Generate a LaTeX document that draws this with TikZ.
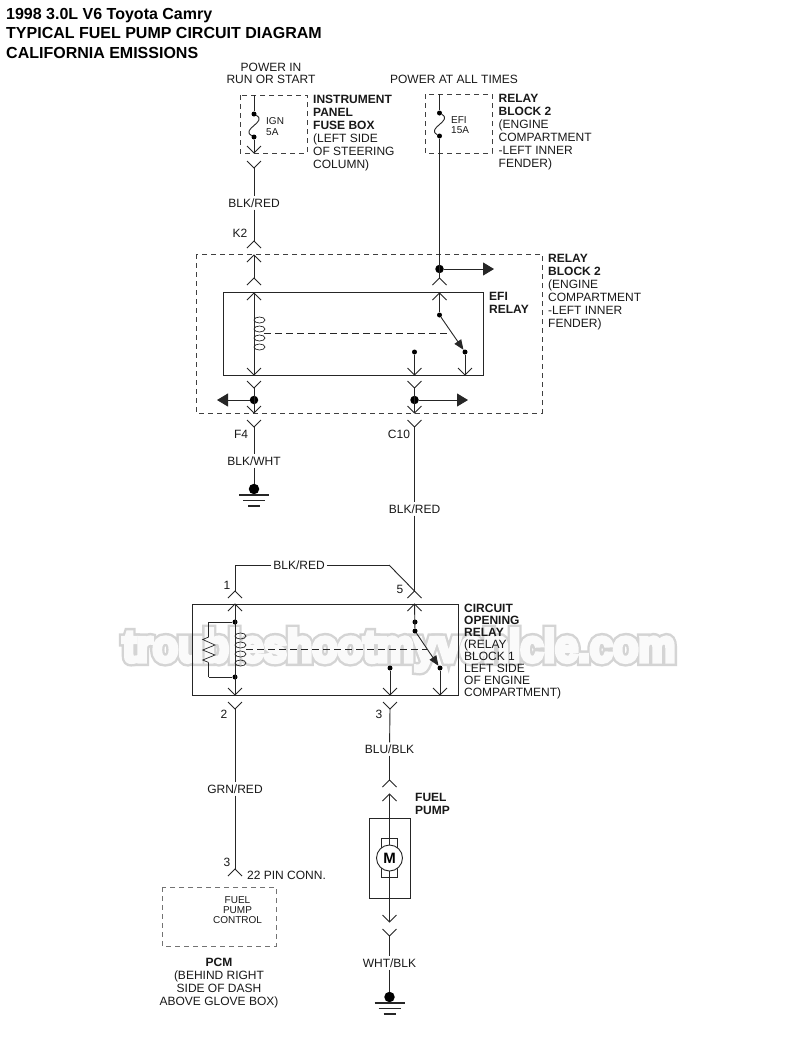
\documentclass[tikz,border=0pt]{standalone}
\usepackage{fontspec}
\setmainfont{Liberation Sans}
\newfontfamily\wmedge[FakeBold=20]{Liberation Sans Bold}
\newfontfamily\wmface[FakeBold=9]{Liberation Sans Bold}
\usetikzlibrary{arrows.meta}
\definecolor{inkgray}{gray}{0.15}

\begin{document}
\begin{tikzpicture}[x=1pt,y=-1pt,
    wire/.style={draw=inkgray,line width=0.9pt},
    dashbox/.style={draw=black!75,line width=0.8pt,dash pattern=on 5pt off 4pt},
    solidbox/.style={draw=inkgray,line width=0.9pt},
    big dot/.style={circle,fill=black,inner sep=0pt,minimum size=8.5pt},
    small dot/.style={circle,fill=black,inner sep=0pt,minimum size=5pt},
    gnd dot/.style={circle,fill=black,inner sep=0pt,minimum size=10.5pt},
    txt/.style={inner sep=0pt,text=black!90,font=\fontsize{12}{13}\selectfont},
    tiny txt/.style={inner sep=0pt,text=black!90,font=\fontsize{10}{10.4}\selectfont},
    side txt/.style={txt,align=left,anchor=north west},
    title txt/.style={anchor=base west,inner sep=0pt,font=\bfseries\fontsize{16}{17}\selectfont},
    mark txt/.style={inner sep=0pt,xscale=0.925,transform shape},
    wire lbl/.style={txt,inner sep=2pt},
    flag/.style={wire,-{Triangle[length=11pt,width=13pt]}},
    arm/.style={wire,-{Triangle[length=10pt,width=8pt]}},
    vee/.pic={\draw[wire] (-7,-7) -- (0,0) -- (7,-7);},
    caret/.pic={\draw[wire] (-7,7) -- (0,0) -- (7,7);},
    coil/.pic={\foreach \cy in {-13.5,-4.5,4.5,13.5}
      \draw[line width=0.7pt,draw=inkgray] (5.5,\cy) ellipse (5.5 and 3);},
    ground/.pic={\draw[line width=1.4pt,draw=inkgray] (-15,6) -- (15,6);
      \draw[line width=1.2pt,draw=inkgray] (-11,11.5) -- (11,11.5);
      \draw[line width=1.2pt,draw=inkgray] (-6,17) -- (6,17);}
  ]
  \useasboundingbox (0,0) rectangle (800,1050);
  \fill[white] (0,0) rectangle (800,1050);

  % watermark
  \node[mark txt,text=black!17,font=\wmedge\fontsize{45}{45}\selectfont] (markedge) at (399,650) {troubleshootmyvehicle.com};
  \node[mark txt,text=black!2,font=\wmface\fontsize{45}{45}\selectfont] (markface) at (399,650) {troubleshootmyvehicle.com};

  % title
  \node[title txt] (titleA) at (6,19.5) {1998 3.0L V6 Toyota Camry};
  \node[title txt] (titleB) at (6,38.5) {TYPICAL FUEL PUMP CIRCUIT DIAGRAM};
  \node[title txt] (titleC) at (6,58.5) {CALIFORNIA EMISSIONS};

  % boxes
  \draw[dashbox] (240,95) rectangle (307,153);
  \draw[dashbox] (425,94) rectangle (492,153);
  \draw[dashbox] (196,254) rectangle (542,413);
  \draw[solidbox] (223,292) rectangle (483,375);
  \draw[solidbox] (192,604) rectangle (458,695);
  \draw[solidbox] (369,818) rectangle (410,898);
  \draw[solidbox] (381,838) rectangle (397,877);
  \draw[dashbox,draw=black!55,line width=1pt] (162,887) rectangle (276,946);

  % left branch, upper part
  \coordinate (igntop) at (254,95);
  \node[small dot] (ignA) at (254,114) {};
  \node[small dot] (ignB) at (254,137) {};
  \coordinate (ignV) at (254,153);
  \coordinate (ignY) at (254,168);
  \node[wire lbl] (blkredA) at (254,203) {BLK/RED};
  \coordinate (kA) at (254,241);
  \coordinate (kB) at (254,255);
  \coordinate (kC) at (254,278);
  \coordinate (kD) at (254,293);
  \coordinate (kE) at (254,375);
  \coordinate (kF) at (254,388);
  \node[big dot] (leftJ) at (254,400) {};
  \coordinate (leftTip) at (217,400);
  \coordinate (fA) at (254,413);
  \coordinate (fB) at (254,427);
  \node[wire lbl] (blkwht) at (254,461) {BLK/WHT};
  \node[gnd dot] (gndA) at (254,489) {};

  % right branch, upper part
  \coordinate (efitop) at (439.5,94);
  \node[small dot] (efiA) at (439.5,113) {};
  \node[small dot] (efiB) at (439.5,136) {};
  \node[big dot] (topJ) at (439.5,269) {};
  \coordinate (topTip) at (494,269);
  \coordinate (rA) at (439.5,278);
  \coordinate (rB) at (439.5,293);
  \node[small dot] (armA) at (439.5,315) {};
  \node[small dot] (armB) at (465,352) {};
  \coordinate (rC) at (465,375);
  \node[small dot] (contA) at (414.5,352) {};
  \coordinate (cA) at (414.5,375);
  \coordinate (cB) at (414.5,388);
  \node[big dot] (midJ) at (414.5,400) {};
  \coordinate (midTip) at (468,400);
  \coordinate (cC) at (414.5,413);
  \coordinate (cD) at (414.5,427);
  \node[wire lbl] (blkredB) at (414.5,509) {BLK/RED};
  \coordinate (pinE) at (414.5,591);
  \coordinate (pinF) at (414.5,604);
  \coordinate (coilAend) at (264,333);
  \coordinate (armAend) at (451,333);

  % opening relay
  \coordinate (pinA) at (235,591);
  \coordinate (bendA) at (235,565);
  \node[wire lbl] (blkredC) at (299,565) {BLK/RED};
  \coordinate (bendB) at (389,565);
  \coordinate (pinB) at (235,604);
  \node[small dot] (opA) at (235,622) {};
  \node[small dot] (opB) at (235,677) {};
  \coordinate (pinC) at (235,695);
  \coordinate (pinD) at (235,709);
  \node[wire lbl] (grnred) at (235,789) {GRN/RED};
  \coordinate (pcmpin) at (235,869);
  \coordinate (resA) at (208.7,622);
  \coordinate (resB) at (208.7,637);
  \coordinate (resC) at (208.7,662.5);
  \coordinate (resD) at (208.7,677);
  \node[small dot] (swA) at (415,622) {};
  \node[small dot] (swB) at (415,631) {};
  \node[small dot] (swC) at (440,668) {};
  \coordinate (swD) at (440,695);
  \node[small dot] (swE) at (390,668) {};
  \coordinate (swF) at (390,695);
  \coordinate (swG) at (390,709);
  \node[wire lbl] (blublk) at (389.5,749) {BLU/BLK};
  \coordinate (pmA) at (389.5,780);
  \coordinate (pmB) at (389.5,794);
  \node[circle,draw=inkgray,line width=0.9pt,fill=white,minimum size=26pt,inner sep=0pt,font=\bfseries\fontsize{15}{15}\selectfont] (motor) at (389.5,858) {M};
  \coordinate (pmC) at (389.5,922);
  \coordinate (pmD) at (389.5,936);
  \node[wire lbl] (whtblk) at (389.5,963) {WHT/BLK};
  \node[gnd dot] (gndB) at (389.5,997) {};
  \coordinate (coilBend) at (246,649);
  \coordinate (swend) at (428,649);

  \path[wire]
    (igntop) edge (ignA)
    (ignA) edge[out=-30,in=150,looseness=1.6] (ignB)
    (ignB) edge (ignV)
    (ignY) edge (blkredA)
    (blkredA) edge (kA)
    (kB) edge (kC)
    (kD) edge (kE)
    (kF) edge (fA)
    (fB) edge (blkwht)
    (blkwht) edge (gndA)
    (efitop) edge (efiA)
    (efiA) edge[out=-30,in=150,looseness=1.6] (efiB)
    (efiB) edge (rA)
    (rB) edge (armA)
    (armB) edge (rC)
    (contA) edge (cA)
    (cB) edge (cC)
    (cD) edge (blkredB)
    (blkredB) edge (pinE)
    (pinA) edge (bendA)
    (bendA) edge (blkredC)
    (blkredC) edge (bendB)
    (bendB) edge (pinE)
    (pinB) edge (pinC)
    (pinD) edge (grnred)
    (grnred) edge (pcmpin)
    (opA) edge (resA)
    (resA) edge (resB)
    (resC) edge (resD)
    (resD) edge (opB)
    (pinF) edge (swB)
    (swC) edge (swD)
    (swE) edge (swF)
    (swG) edge (blublk)
    (blublk) edge (pmA)
    (pmB) edge (motor)
    (motor) edge (pmC)
    (pmD) edge (whtblk)
    (whtblk) edge (gndB);
  \draw[arm] (armA) -- (armB);
  \draw[arm] (swB) -- (swC);
  \draw[flag] (topJ) -- (topTip);
  \draw[flag] (leftJ) -- (leftTip);
  \draw[flag] (midJ) -- (midTip);
  \draw[wire,dash pattern=on 7pt off 4pt] (coilAend) -- (armAend);
  \draw[wire,dash pattern=on 7pt off 4pt] (coilBend) -- (swend);
  \draw[line width=0.7pt,draw=inkgray] (resB) -- (202.7,639.5) -- (215,645) -- (202.7,650) -- (215,655) -- (202.7,660) -- (resC);

  % connector ends
  \foreach \p in {ignV,kE,fA,rC,cA,cC,pinC,swD,swF,pmC}
    \pic at (\p) {vee};
  \foreach \p in {ignY,fB,cD,cB,kF,pinD,swG,pmD}
    \pic at (\p) {vee};
  \foreach \p in {kA,kB,kC,kD,rA,rB,pinA,pinB,pinE,pinF,pcmpin,pmA,pmB}
    \pic at (\p) {caret};
  \pic at (254,333.5) {coil};
  \pic at (235,649.5) {coil};
  \pic at (gndA) {ground};
  \pic at (gndB) {ground};

  % labels
  \node[txt] (pwrA) at (271,67) {POWER IN};
  \node[txt] (pwrB) at (271,79) {RUN OR START};
  \node[txt] (pwrC) at (454,79) {POWER AT ALL TIMES};
  \node[tiny txt,align=left,anchor=north west] (ignlbl) at (266,117.5) {IGN\\5A};
  \node[tiny txt,align=left,anchor=north west] (efilbl) at (451,116.5) {EFI\\15A};
  \node[side txt] (ipfb) at (313,95) {\textbf{INSTRUMENT}\\\textbf{PANEL}\\\textbf{FUSE BOX}\\(LEFT SIDE\\OF STEERING\\COLUMN)};
  \node[side txt] (rbA) at (498.5,94) {\textbf{RELAY}\\\textbf{BLOCK 2}\\(ENGINE\\COMPARTMENT\\-LEFT INNER\\FENDER)};
  \node[side txt] (rbB) at (548,254) {\textbf{RELAY}\\\textbf{BLOCK 2}\\(ENGINE\\COMPARTMENT\\-LEFT INNER\\FENDER)};
  \node[side txt] (efirel) at (489,292) {\textbf{EFI}\\\textbf{RELAY}};
  \node[txt] (kAlbl) at (240,233) {K2};
  \node[txt] (fourlbl) at (241,434) {F4};
  \node[txt] (ctenlbl) at (399,434) {C10};
  \node[txt] (onelbl) at (227,585) {1};
  \node[txt] (fivelbl) at (400,589) {5};
  \node[txt] (twolbl) at (224,714) {2};
  \node[txt] (threelbl) at (379,714) {3};
  \node[txt] (threeB) at (227,862) {3};
  \node[txt,anchor=west] (pinconn) at (247,875) {22 PIN CONN.};
  \node[side txt,font=\fontsize{12}{12}\selectfont] (corel) at (464,604) {\textbf{CIRCUIT}\\\textbf{OPENING}\\\textbf{RELAY}\\(RELAY\\BLOCK 1\\LEFT SIDE\\OF ENGINE\\COMPARTMENT)};
  \node[side txt] (pumplbl) at (415,793) {\textbf{FUEL}\\\textbf{PUMP}};
  \node[tiny txt,align=center,anchor=north] (fpc) at (237.5,896) {FUEL\\PUMP\\CONTROL};
  \node[txt,align=center,anchor=north] (pcmlbl) at (219,958) {\textbf{PCM}\\(BEHIND RIGHT\\SIDE OF DASH\\ABOVE GLOVE BOX)};
\end{tikzpicture}
\end{document}
